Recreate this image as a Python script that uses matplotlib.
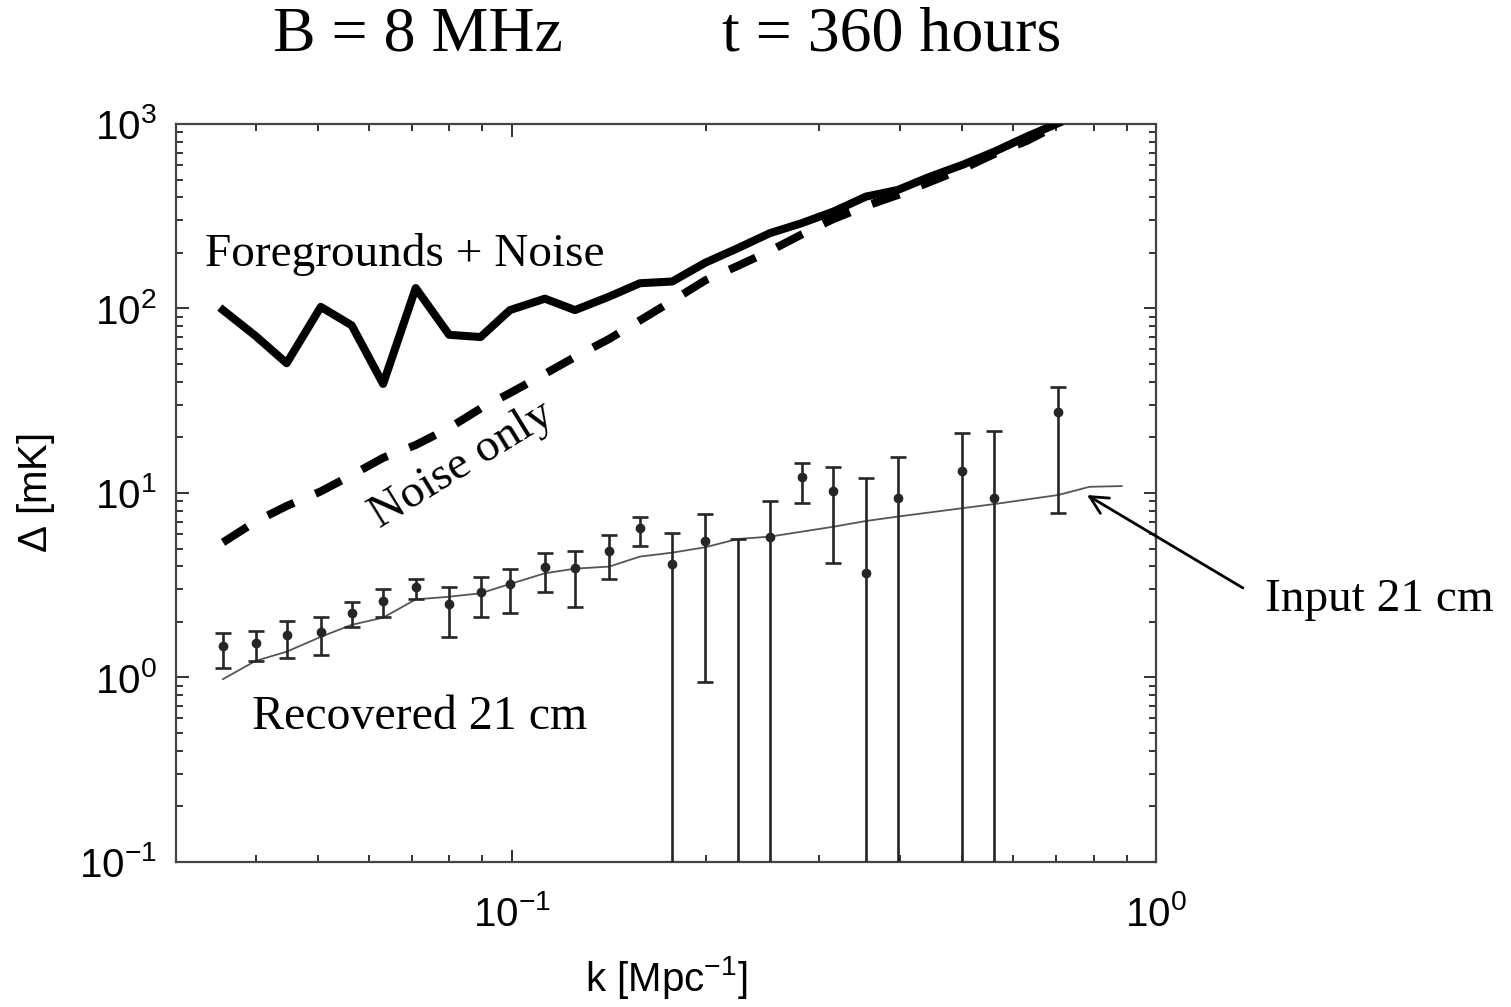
import numpy as np
import matplotlib
matplotlib.use("Agg")
import matplotlib.pyplot as plt
from matplotlib.ticker import LogLocator, NullFormatter

plt.rcParams['mathtext.fontset'] = 'custom'
plt.rcParams['mathtext.rm'] = 'Liberation Sans'
plt.rcParams['mathtext.it'] = 'Liberation Sans'

# k grid where the curves have vertices
k_grid = [0.0356, 0.0400, 0.0447, 0.0505, 0.0564, 0.0631, 0.0709, 0.0799, 0.0894, 0.0993,
          0.1125, 0.1253, 0.1416, 0.1580, 0.1774, 0.1996, 0.2241, 0.2515, 0.2818, 0.3154,
          0.3546, 0.3973, 0.4457, 0.5003, 0.5611, 0.6298, 0.7050]

# foregrounds + noise (thick solid)
fg_noise = [98, 71, 50.5, 102, 81, 39, 129, 72, 70, 98,
            113, 98, 116, 137, 140, 177, 212, 256, 290, 335,
            404, 439, 518, 600, 708, 854, 1010]

# noise only (thick dashed)
noise_only = [5.4, 7.0, 8.5, 10.2, 12.5, 15.5, 18.2, 22.5, 28.7, 34.8,
              44.2, 54.6, 68.4, 86.1, 110, 142, 170, 205, 252, 305,
              359, 412, 485, 570, 688, 809, 990]

# input 21 cm signal (thin line)
k_input = [0.0356, 0.0400, 0.0447, 0.0505, 0.0564, 0.0631, 0.0709, 0.0799, 0.0894, 0.0993,
           0.1125, 0.1253, 0.1416, 0.1580, 0.1774, 0.1996, 0.2241, 0.2515, 0.2818, 0.3154,
           0.3546, 0.3973, 0.5003, 0.5611, 0.7050, 0.7881, 0.8845]
input_21 = [0.98, 1.23, 1.38, 1.66, 1.93, 2.11, 2.65, 2.74, 2.86, 3.21,
            3.67, 3.89, 3.99, 4.52, 4.75, 5.08, 5.63, 5.80, 6.17, 6.56,
            7.05, 7.45, 8.27, 8.71, 9.75, 10.8, 10.9]

# recovered 21 cm with error bars (lower bound 0.01 = bar runs off the axis)
k_rec = [0.0356, 0.0400, 0.0447, 0.0505, 0.0564, 0.0631, 0.0709, 0.0799, 0.0894, 0.0993,
         0.1125, 0.1253, 0.1416, 0.1580, 0.1774, 0.1996, 0.2241, 0.2515, 0.2818, 0.3154,
         0.3546, 0.3973, 0.5003, 0.5611, 0.7050]
rec_21 = [1.48, 1.53, 1.69, 1.77, 2.23, 2.60, 3.08, 2.49, 2.90, 3.21,
          3.96, 3.91, 4.85, 6.44, 4.11, 5.49, 0.05, 5.80, 12.2, 10.3,
          3.67, 9.36, 13.2, 9.36, 27.4]
rec_hi = [1.75, 1.79, 2.03, 2.14, 2.55, 3.02, 3.42, 3.10, 3.52, 3.89,
          4.75, 4.87, 5.94, 7.44, 6.09, 7.67, 5.63, 9.08, 14.6, 13.9,
          12.0, 15.7, 21.2, 21.8, 37.7]
rec_lo = [1.12, 1.23, 1.27, 1.32, 1.88, 2.12, 2.66, 1.66, 2.14, 2.25,
          2.90, 2.42, 3.42, 5.16, 0.01, 0.94, 0.01, 0.01, 8.86, 4.19,
          0.01, 0.01, 0.01, 0.01, 7.82]

fig = plt.figure(figsize=(15.11, 10.07), dpi=100)
ax = fig.add_axes([0.1165, 0.144, 0.6486, 0.7329])

ax.plot(k_grid, fg_noise, color='black', lw=5.8, solid_joinstyle='round', zorder=3)
ax.plot(k_grid, noise_only, color='black', lw=5.8, dashes=(3.6, 2.9), zorder=3)
ax.plot(k_input, input_21, color='#555555', lw=1.3, zorder=2)

rec = np.array(rec_21)
yerr = [rec - np.array(rec_lo), np.array(rec_hi) - rec]
ax.errorbar(k_rec, rec_21, yerr=yerr, fmt='o', color='#262626', ms=6, lw=1.9,
            capsize=6, capthick=1.9, zorder=4)

ax.set_xscale('log')
ax.set_yscale('log')
ax.set_xlim(0.0301, 1.0)
ax.set_ylim(0.1, 1000)

ax.tick_params(which='both', direction='in', top=True, right=True, labelsize=29,
               color='#333333')
ax.tick_params(axis='y', pad=14)
ax.tick_params(axis='x', pad=24)
ax.tick_params(which='major', length=9, width=1.4)
ax.tick_params(which='minor', length=5, width=1.4)
ax.xaxis.set_minor_locator(LogLocator(base=10, subs=np.arange(2, 10)))
ax.yaxis.set_minor_locator(LogLocator(base=10, subs=np.arange(2, 10)))
ax.xaxis.set_minor_formatter(NullFormatter())
ax.yaxis.set_minor_formatter(NullFormatter())
for s in ax.spines.values():
    s.set_linewidth(1.6)
    s.set_color('#444444')
for lab in ax.get_xticklabels() + ax.get_yticklabels():
    lab.set_fontfamily('Liberation Sans')

ax.set_xlabel(r'k [Mpc$^{-1}$]', fontsize=29, family='Liberation Sans', labelpad=14)
ax.set_ylabel(r'$\Delta$ [mK]', fontsize=29, family='Liberation Sans', labelpad=16)

serif = 'Liberation Serif'
fig.text(0.1807, 0.965, 'B = 8 MHz', fontsize=46, family=serif, ha='left', va='center')
fig.text(0.478, 0.965, 't = 360 hours', fontsize=46, family=serif, ha='left', va='center')

fig.text(0.1357, 0.7468, 'Foregrounds + Noise', fontsize=34, family=serif,
         ha='left', va='center')
fig.text(0.1668, 0.288, 'Recovered 21 cm', fontsize=34.5, family=serif,
         ha='left', va='center')
fig.text(0.3058, 0.5382, 'Noise only', fontsize=34, family=serif, ha='center',
         va='center', rotation=31.5)
fig.text(0.8372, 0.404, 'Input 21 cm', fontsize=34, family=serif, ha='left', va='center')
ax.annotate('', xy=(0.7194, 0.5084), xycoords='figure fraction',
            xytext=(0.8226, 0.4161), textcoords='figure fraction',
            annotation_clip=False,
            arrowprops=dict(arrowstyle='->', color='black', lw=2, mutation_scale=32,
                            shrinkA=0, shrinkB=0))

fig.savefig('out.png', dpi=100)
